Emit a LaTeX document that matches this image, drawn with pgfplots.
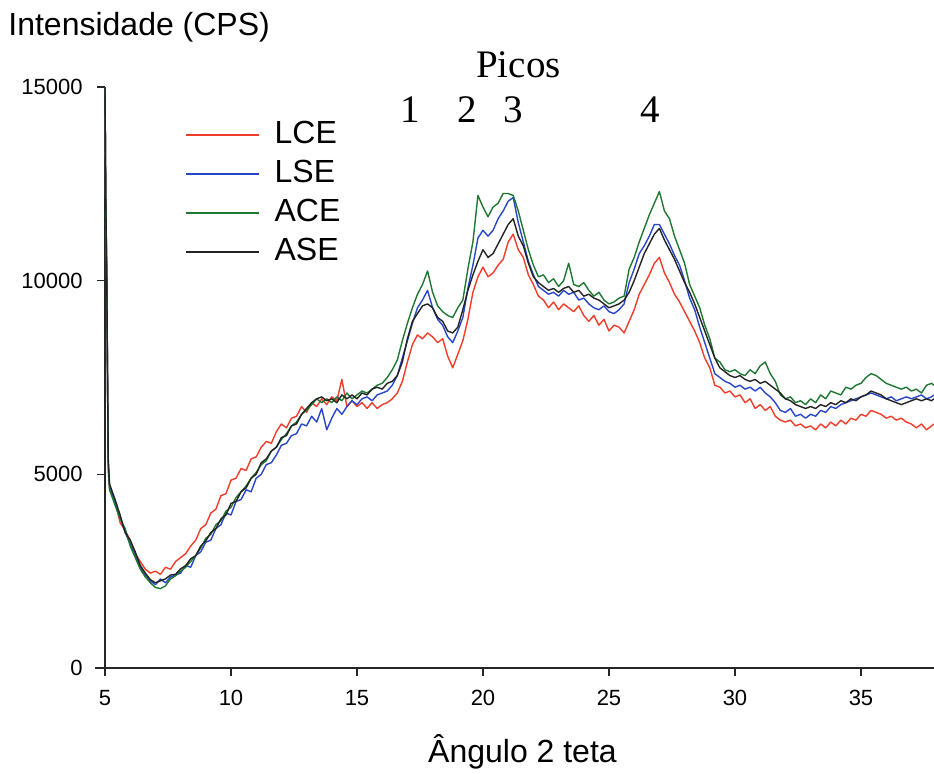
\documentclass[border=0pt]{standalone}
\usepackage{fontspec}
\setmainfont{Liberation Sans}
\newfontfamily\serifnum{Liberation Serif}
\usepackage{pgfplots}
\usepackage{pgfplotstable}
\pgfplotsset{compat=1.18}

\definecolor{cLCE}{RGB}{240,60,40}
\definecolor{cLSE}{RGB}{40,70,200}
\definecolor{cACE}{RGB}{30,120,50}
\definecolor{cASE}{RGB}{35,35,35}

% Diffractograms: 2theta, LCE, LSE, ACE, ASE (CPS)
\pgfplotstableread{
x LCE LSE ACE ASE
5.00 15000 15000 15000 15000
5.03 12000 12100 11900 12200
5.07 10000 10100 9900 10200
5.10 7500 7600 7400 7700
5.13 5200 5300 5100 5400
5.18 4650 4700 4600 4750
5.40 4300 4250 4200 4350
5.60 3750 3900 3850 3950
5.80 3550 3500 3600 3500
6.00 3300 3200 3150 3300
6.20 2950 2900 2850 3000
6.40 2750 2600 2550 2650
6.60 2550 2400 2350 2450
6.80 2450 2250 2200 2280
7.00 2500 2150 2080 2200
7.20 2420 2300 2050 2250
7.40 2600 2200 2120 2300
7.60 2550 2350 2300 2400
7.80 2750 2400 2380 2420
8.00 2850 2450 2500 2560
8.20 2950 2650 2600 2640
8.40 3150 2600 2750 2820
8.60 3300 2900 2900 2900
8.80 3600 3000 3100 3150
9.00 3700 3250 3350 3280
9.20 4000 3300 3450 3500
9.40 4100 3600 3700 3600
9.60 4450 3700 3800 3850
9.80 4500 4000 4050 3950
10.00 4850 3950 4150 4250
10.20 4900 4300 4400 4300
10.40 5150 4350 4550 4550
10.60 5100 4600 4700 4650
10.80 5400 4550 4900 4900
11.00 5450 4900 5050 5000
11.20 5700 5000 5250 5300
11.40 5850 5250 5350 5400
11.60 5800 5300 5600 5600
11.80 6100 5500 5700 5700
12.00 6300 5750 5900 5950
12.20 6200 5800 6050 6000
12.40 6450 6000 6250 6250
12.60 6500 6050 6350 6300
12.80 6750 6300 6550 6550
13.00 6600 6250 6650 6700
13.20 6850 6500 6800 6850
13.40 6750 6350 6950 6950
13.60 6950 6700 6850 7000
13.80 6800 6150 6950 6900
14.00 7000 6450 6850 6950
14.20 6900 6700 7000 6850
14.40 7450 6550 6900 7050
14.60 6750 6750 7100 6950
14.80 6900 6900 6950 7050
15.00 6750 6800 7050 6950
15.20 6850 6950 7150 7100
15.40 6700 7000 7100 7050
15.60 6850 6900 7200 7200
15.80 6700 7050 7300 7250
16.00 6800 7100 7350 7200
16.20 6850 7150 7500 7350
16.40 6950 7300 7700 7400
16.60 7100 7550 7950 7550
16.80 7400 8000 8450 7900
17.00 7900 8450 8900 8500
17.20 8350 8900 9300 8950
17.40 8600 9300 9650 9150
17.60 8500 9500 9900 9350
17.80 8650 9750 10250 9400
18.00 8550 9300 9700 9300
18.20 8400 9000 9350 9050
18.40 8500 8850 9200 8950
18.60 8050 8550 9100 8700
18.80 7750 8400 9050 8650
19.00 8100 8700 9300 8800
19.20 8450 9050 9500 9250
19.40 9000 9800 10300 9750
19.60 9700 10400 11000 10150
19.80 10100 11100 12200 10500
20.00 10350 11300 11900 10800
20.20 10100 11150 11650 10600
20.40 10200 11300 11900 10700
20.60 10400 11600 12000 10950
20.80 10550 11800 12250 11200
21.00 11000 12050 12250 11450
21.20 11200 12150 12200 11600
21.40 10800 11500 11800 11150
21.60 10600 11000 11300 10900
21.80 10150 10500 10800 10450
22.00 9900 10150 10400 10100
22.20 9600 9850 10100 9950
22.40 9500 9750 10150 9850
22.60 9300 9650 9950 9750
22.80 9450 9700 10050 9800
23.00 9250 9600 9850 9700
23.20 9400 9750 10000 9800
23.40 9300 9650 10450 9850
23.60 9200 9700 9900 9700
23.80 9350 9500 9850 9750
24.00 9100 9550 9950 9600
24.20 8950 9400 9750 9650
24.40 9100 9300 9600 9550
24.60 8850 9250 9700 9500
24.80 9000 9350 9500 9400
25.00 8700 9200 9400 9300
25.20 8850 9150 9450 9350
25.40 8800 9250 9550 9400
25.60 8650 9400 9600 9500
25.80 8950 9950 10300 9700
26.00 9250 10300 10600 10000
26.20 9650 10700 11000 10350
26.40 9900 10900 11350 10700
26.60 10150 11150 11700 10950
26.80 10450 11450 12000 11200
27.00 10600 11450 12300 11350
27.20 10200 11200 11800 11050
27.40 9950 10950 11600 10800
27.60 9650 10650 11150 10550
27.80 9450 10400 10800 10250
28.00 9200 10000 10450 9950
28.20 8950 9550 9900 9700
28.40 8700 9250 9600 9400
28.60 8400 8800 9300 9050
28.80 8000 8400 8850 8700
29.00 7750 8000 8500 8350
29.20 7300 7600 8000 8000
29.40 7250 7500 7900 7750
29.60 7100 7400 7700 7650
29.80 7150 7350 7650 7550
30.00 7000 7250 7700 7500
30.20 7050 7300 7600 7550
30.40 6850 7200 7550 7450
30.60 6950 7250 7700 7400
30.80 6700 7150 7600 7450
31.00 6800 7250 7800 7350
31.20 6650 7100 7900 7400
31.40 6750 7000 7600 7300
31.60 6500 6850 7400 7200
31.80 6400 6650 7050 7100
32.00 6350 6600 6950 6950
32.20 6400 6700 7000 6900
32.40 6250 6500 6850 6800
32.60 6300 6550 6900 6750
32.80 6200 6450 6800 6700
33.00 6250 6550 6950 6750
33.20 6150 6500 6850 6700
33.40 6300 6650 7050 6800
33.60 6200 6600 6950 6750
33.80 6350 6750 7150 6850
34.00 6250 6700 7100 6800
34.20 6400 6800 7050 6900
34.40 6300 6850 7250 6850
34.60 6450 6900 7200 6950
34.80 6400 6950 7300 6900
35.00 6550 7000 7350 7000
35.20 6500 7050 7500 7050
35.40 6650 7100 7600 7150
35.60 6600 7050 7550 7100
35.80 6550 7000 7450 7050
36.00 6450 6950 7350 6950
36.20 6500 7000 7300 6900
36.40 6400 6900 7250 6850
36.60 6450 6950 7200 6800
36.80 6350 7000 7250 6850
37.00 6300 6950 7150 6900
37.20 6200 7000 7200 6950
37.40 6300 7050 7100 6900
37.60 6150 6950 7300 6950
37.80 6250 7000 7350 6900
37.89 6300 7050 7300 6950
}\difdata

\begin{document}
\begin{tikzpicture}
\path[use as bounding box] (-52.5pt,-52.5pt) rectangle (414.5pt,334pt);
\begin{axis}[
  scale only axis,
  width=414.5pt, height=290.5pt,
  xmin=5, xmax=37.897,
  ymin=0, ymax=15000,
  clip=false,
  axis x line=bottom, axis y line=left,
  axis line style={-, color=black!85, line width=0.6pt},
  x axis line style={shorten <=-5pt},
  xtick={5,10,...,35},
  ytick={0,5000,10000,15000},
  scaled y ticks=false,
  tick align=outside,
  major tick length=4pt,
  tick style={color=black!85, line width=0.6pt},
  /pgf/number format/assume math mode=true,
  /pgf/number format/1000 sep={},
  ticklabel style={font=\fontsize{11}{13}\selectfont, inner sep=0pt},
  xticklabel style={anchor=north, yshift=-7pt},
  yticklabel style={anchor=east, xshift=-7pt},
  xlabel={Ângulo 2 teta},
  ylabel={Intensidade (CPS)},
  every axis x label/.style={at={(axis description cs:0.5036,-0.1618)}, anchor=base, inner sep=0pt, font=\fontsize{16}{19}\selectfont},
  every axis y label/.style={at={(axis description cs:-0.117,1.0895)}, anchor=base west, inner sep=0pt, font=\fontsize{16}{19}\selectfont},
  legend style={at={(axis cs:7.93,14300)}, anchor=north west, draw=none, fill=none,
    font=\fontsize{16}{19}\selectfont,
    nodes={inner sep=1pt, text height=11.5pt, text depth=0pt},
    row sep=6pt,
    /tikz/every odd column/.append style={column sep=6.5pt}},
  legend cell align=left,
  legend image code/.code={\draw[#1] (0pt,-1.5pt) -- (36.5pt,-1.5pt);},
  every axis plot/.append style={line width=0.7pt, line join=round},
]
\addplot[cLCE] table[x=x, y=LCE] {\difdata};
\addplot[cLSE] table[x=x, y=LSE] {\difdata};
\addplot[cACE] table[x=x, y=ACE] {\difdata};
\addplot[cASE] table[x=x, y=ASE] {\difdata};
\legend{LCE, LSE, ACE, ASE}

\node[anchor=base, inner sep=0pt, font=\serifnum\fontsize{19.5}{22}\selectfont] at (axis cs:21.41,15258) {Picos};
\node[anchor=base, inner sep=0pt, font=\serifnum\fontsize{19.5}{22}\selectfont] at (axis cs:17.10,14072) {1};
\node[anchor=base, inner sep=0pt, font=\serifnum\fontsize{19.5}{22}\selectfont] at (axis cs:19.37,14072) {2};
\node[anchor=base, inner sep=0pt, font=\serifnum\fontsize{19.5}{22}\selectfont] at (axis cs:21.19,14072) {3};
\node[anchor=base, inner sep=0pt, font=\serifnum\fontsize{19.5}{22}\selectfont] at (axis cs:26.63,14072) {4};
\end{axis}
\end{tikzpicture}
\end{document}
